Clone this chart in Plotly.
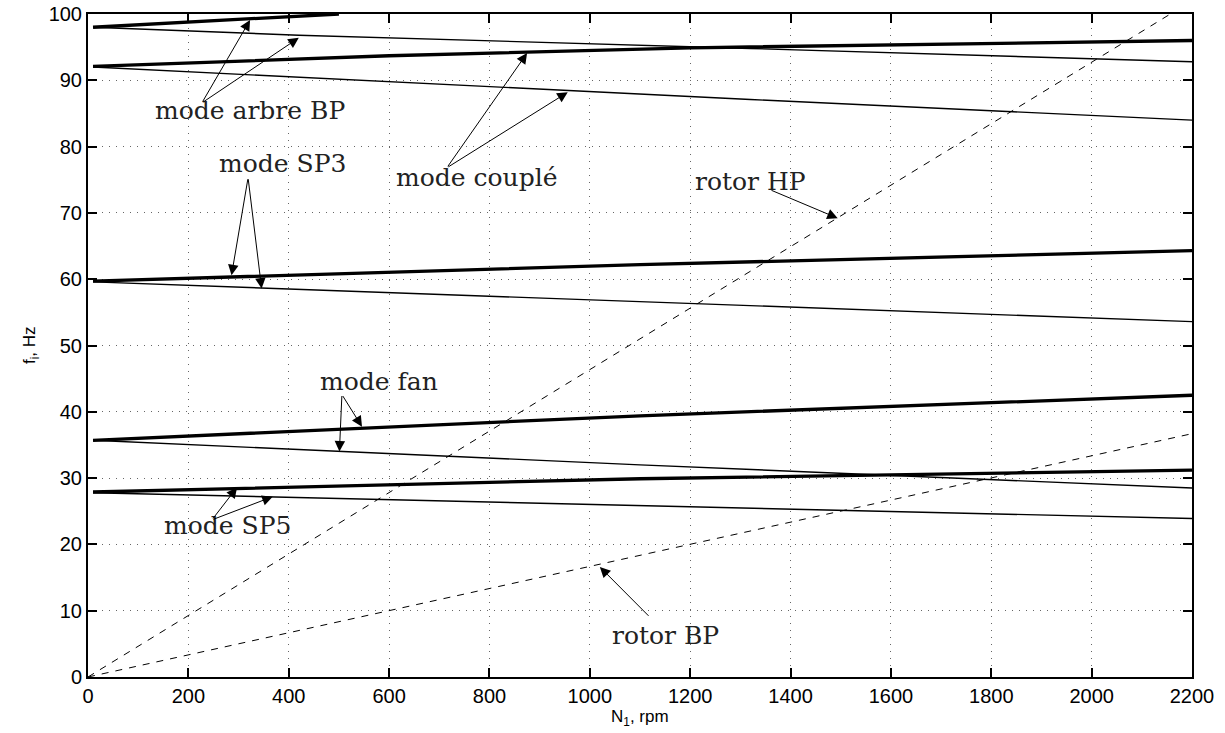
import plotly.graph_objects as go

# ---- data ----
N_mode = [10, 1100, 2200]

arbre_fw_N = [10, 250, 500]
arbre_fw_f = [98.0, 99.0, 100.0]
arbre_bw_N = [10, 420, 1320, 2200]
arbre_bw_f = [98.0, 96.8, 94.8, 92.8]

couple_fw_N = [10, 420, 600, 1200, 2200]
couple_fw_f = [92.1, 93.2, 93.7, 94.9, 96.0]
couple_bw_N = [10, 420, 1320, 2200]
couple_bw_f = [92.0, 90.45, 87.1, 84.0]

sp3_fw_f = [59.7, 62.2, 64.3]
sp3_bw_f = [59.6, 56.6, 53.6]
fan_fw_f = [35.7, 39.4, 42.5]
fan_bw_f = [35.7, 32.0, 28.5]
sp5_fw_f = [27.9, 29.9, 31.2]
sp5_bw_f = [27.8, 25.9, 23.9]

rotor_N = [0, 2200]
rotor_hp_f = [0, 102.0]
rotor_bp_f = [0, 36.7]

x_ticks = list(range(0, 2201, 200))
y_ticks = list(range(0, 101, 10))

# ---- figure ----
fig = go.Figure()

def add_line(x, y, width, dash="solid"):
    fig.add_trace(go.Scatter(x=x, y=y, mode="lines",
                             line=dict(color="black", width=width, dash=dash),
                             showlegend=False, hoverinfo="skip"))

THICK, THIN = 3.3, 1.4
add_line(arbre_fw_N, arbre_fw_f, THICK)
add_line(arbre_bw_N, arbre_bw_f, THIN)
add_line(couple_fw_N, couple_fw_f, THICK)
add_line(couple_bw_N, couple_bw_f, THIN)
add_line(N_mode, sp3_fw_f, THICK)
add_line(N_mode, sp3_bw_f, THIN)
add_line(N_mode, fan_fw_f, THICK)
add_line(N_mode, fan_bw_f, THIN)
add_line(N_mode, sp5_fw_f, THICK)
add_line(N_mode, sp5_bw_f, THIN)
add_line(rotor_N, rotor_hp_f, 1, dash="7px,7px")
add_line(rotor_N, rotor_bp_f, 1, dash="7px,7px")

# ---- annotations: labels ----
TXT = dict(family="DejaVu Serif", size=25, color="#222222")
labels = [
    ("mode arbre BP", 323, 85.4),
    ("mode couplé", 775, 75.4),
    ("mode SP3", 387, 77.4),
    ("rotor HP", 1320, 74.8),
    ("mode fan", 580, 44.6),
    ("mode SP5", 277, 22.8),
    ("rotor BP", 1150, 6.3),
]
for t, x, y in labels:
    fig.add_annotation(x=x, y=y, xref="x", yref="y", text=t, showarrow=False,
                       font=TXT)

# ---- annotations: arrows (tail -> head) ----
arrows = [
    (227, 86.6, 323, 99.1),
    (227, 86.6, 420, 96.4),
    (715, 76.8, 875, 94.1),
    (715, 76.8, 956, 88.2),
    (319, 75.3, 286, 60.6),
    (319, 75.3, 346, 58.6),
    (1359, 73.5, 1494, 69.2),
    (506, 42.6, 546, 37.75),
    (506, 42.6, 501, 34.0),
    (247, 23.7, 297, 28.6),
    (247, 23.7, 368, 27.2),
    (1120, 9.0, 1020, 16.6),
]
for ax_, ay_, x, y in arrows:
    fig.add_annotation(x=x, y=y, ax=ax_, ay=ay_, xref="x", yref="y",
                       axref="x", ayref="y", text="", showarrow=True,
                       arrowhead=2, arrowsize=2.1, arrowwidth=1,
                       arrowcolor="black", standoff=0, startstandoff=0)

# ---- axis titles as paper annotations ----
TITLE_FONT = dict(family="Liberation Sans", size=17, color="black")
fig.add_annotation(x=0.5, y=-0.062, xref="paper", yref="paper",
                   text="N<sub>1</sub>, rpm", showarrow=False,
                   xanchor="center", yanchor="middle", font=TITLE_FONT)
fig.add_annotation(x=-0.052, y=0.5, xref="paper", yref="paper",
                   text="f<sub>i</sub>, Hz", showarrow=False, textangle=-90,
                   xanchor="center", yanchor="middle", font=TITLE_FONT)

axis_common = dict(
    showline=True, linecolor="black", linewidth=2, mirror="ticks",
    ticks="inside", ticklen=9, tickwidth=2, tickcolor="black",
    showgrid=True, gridcolor="#666666", gridwidth=1, griddash="1px,6px",
    zeroline=False, automargin=False,
    tickfont=dict(family="Liberation Sans", size=20, color="black"),
)

fig.update_xaxes(range=[0, 2200], tickvals=x_ticks, **axis_common)
fig.update_yaxes(range=[0, 100], tickvals=y_ticks, **axis_common)

fig.update_layout(
    width=1225, height=733,
    margin=dict(l=88, r=33, t=14, b=56),
    plot_bgcolor="white", paper_bgcolor="white",
    showlegend=False,
)

fig.write_html("out.html",
               config={"displayModeBar": False},
               post_script="document.body.style.margin='0';"
                           "document.body.style.overflow='hidden';")
